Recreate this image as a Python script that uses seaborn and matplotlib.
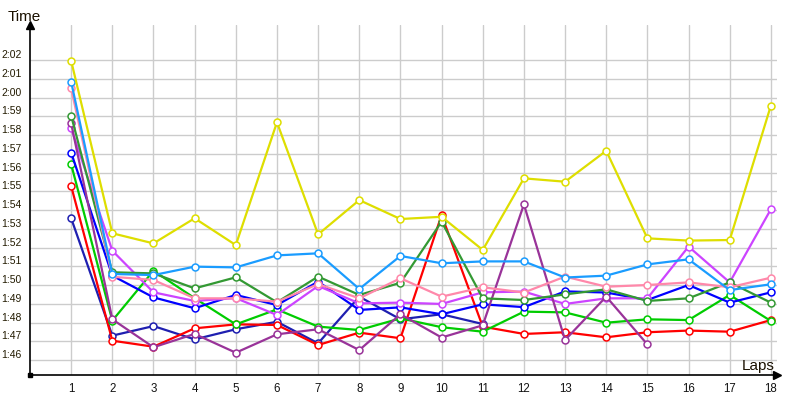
import numpy as np
import pandas as pd
import matplotlib
matplotlib.use("Agg")
import matplotlib.pyplot as plt
import seaborn as sns

laps = list(range(1, 19))

# lap times in seconds
yellow = [121.96, 112.76, 112.22, 113.56, 112.13, 118.68, 112.7, 114.53, 113.52, 113.64,
          111.87, 115.69, 115.51, 117.16, 112.49, 112.37, 112.4, 119.57]
light_blue = [120.84, 110.59, 110.53, 110.98, 110.94, 111.58, 111.69, 109.79, 111.55, 111.16,
              111.26, 111.26, 110.4, 110.5, 111.1, 111.37, 109.73, 110.04]
pink = [120.49, 110.44, 110.27, 109.29, 109.29, 109.11, 110.05, 109.29, 110.36, 109.38,
        109.88, 109.6, 110.45, 109.91, 110.0, 110.14, 109.88, 110.39]
dark_green = [119.03, 110.68, 110.62, 109.82, 110.41, 109.08, 110.45, 109.47, 110.12, 113.38,
              109.29, 109.2, 109.5, 109.77, 109.15, 109.29, 110.14, 109.06]
purple = [118.62, 108.17, 106.68, 107.39, 106.39, 107.37, 107.64, 106.53, 108.44, 107.2,
          107.85, 114.3, 107.07, 109.38, 106.83]
violet = [118.36, 111.83, 109.61, 109.15, 109.3, 108.4, 109.95, 109.02, 109.06, 108.99,
          109.61, 109.65, 108.99, 109.29, 109.29, 112.05, 110.14, 114.04]
blue = [117.06, 110.5, 109.34, 108.76, 109.47, 108.93, 110.18, 108.67, 108.81, 108.44,
        108.97, 108.82, 109.66, 109.6, 109.2, 110.0, 109.06, 109.61]
green = [116.44, 108.1, 110.76, 109.3, 107.9, 108.7, 107.78, 107.6, 108.22, 107.75,
         107.51, 108.58, 108.54, 107.99, 108.17, 108.13, 109.47, 108.08]
red = [115.28, 107.03, 106.71, 107.69, 107.9, 107.87, 106.8, 107.46, 107.16, 113.73,
       107.78, 107.39, 107.48, 107.21, 107.48, 107.57, 107.51, 108.13]
navy = [113.56, 107.3, 107.81, 107.1, 107.64, 108.04, 106.89, 109.38, 108.17, 108.44, 107.92]

series = {
    "navy": navy, "red": red, "green": green, "blue": blue, "violet": violet,
    "purple": purple, "dark_green": dark_green, "pink": pink,
    "light_blue": light_blue, "yellow": yellow,
}
colors = {
    "navy": "#1f1fb0", "red": "#ff0000", "green": "#00cc00", "blue": "#0000ff",
    "violet": "#cc44ff", "purple": "#993399", "dark_green": "#339933",
    "pink": "#ff88aa", "light_blue": "#1a9cff", "yellow": "#dede00",
}

ytick_vals = list(range(106, 123))
ytick_labels = ["1:46", "1:47", "1:48", "1:49", "1:50", "1:51", "1:52", "1:53", "1:54",
                "1:55", "1:56", "1:57", "1:58", "1:59", "2:00", "2:01", "2:02"]

rows = []
for name, vals in series.items():
    for lap, v in zip(laps, vals):
        rows.append({"lap": lap, "time": v, "driver": name})
df = pd.DataFrame(rows)

sns.set_style("white")
plt.rcParams["font.family"] = ["Liberation Sans", "DejaVu Sans"]

fig = plt.figure(figsize=(8, 4), dpi=100)
ax = fig.add_axes([0.0375, 0.0625, 0.9338, 0.875])

sns.lineplot(data=df, x="lap", y="time", hue="driver", palette=colors,
             hue_order=list(series.keys()), sort=False, estimator=None,
             marker="o", markersize=5, markerfacecolor="white",
             markeredgewidth=1.1, linewidth=1.6, legend=False, ax=ax, zorder=3)
for line in ax.get_lines():
    line.set_markeredgecolor(line.get_color())

ax.set_xlim(0, 18.15)
ax.set_ylim(105.2, 123.87)
ax.set_xticks(laps)
ax.set_xticklabels([str(l) for l in laps], fontsize=8.3, color="#111111")
ax.set_yticks(ytick_vals)
ax.set_yticklabels(ytick_labels, fontsize=7.5, color="#221a00")
for lab in ax.get_yticklabels():
    lab.set_va("bottom")
ax.tick_params(axis="both", length=0)
ax.tick_params(axis="y", pad=6)
ax.tick_params(axis="x", pad=6)
ax.grid(True, color="#cccccc", linewidth=1.0, zorder=0)
ax.set_axisbelow(True)
ax.set_xlabel("")
ax.set_ylabel("")

for s in ["top", "right"]:
    ax.spines[s].set_visible(False)
for s in ["left", "bottom"]:
    ax.spines[s].set_color("black")
    ax.spines[s].set_linewidth(1.2)
    ax.spines[s].set_zorder(4)

# arrowheads and corner
ax.plot([0], [1], marker="^", color="black", markersize=6, transform=ax.transAxes,
        clip_on=False, zorder=5)
ax.plot([1], [0], marker=">", color="black", markersize=6, transform=ax.transAxes,
        clip_on=False, zorder=5)
ax.plot([0], [0], marker="s", color="black", markersize=3, transform=ax.transAxes,
        clip_on=False, zorder=5)

fig.text(8 / 800, 1 - 21 / 400, "Time", fontsize=11, va="baseline", ha="left", color="#1a1000")
fig.text(775 / 800, 1 - 370 / 400, "Laps", fontsize=11, va="baseline", ha="right", color="#1a1000")

fig.savefig("out.png", dpi=100)
